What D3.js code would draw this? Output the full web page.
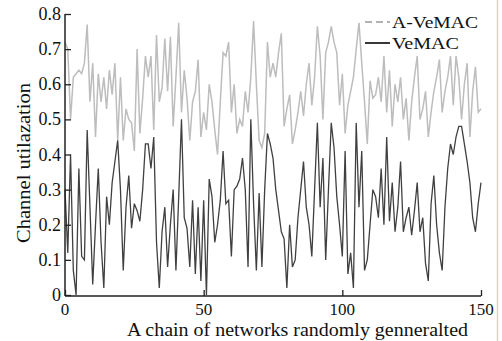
<!DOCTYPE html>
<html><head><meta charset="utf-8">
<script src="https://cdn.jsdelivr.net/npm/d3@7"></script>
<style>body{margin:0;background:#fff}svg{display:block}svg text{font-family:'Liberation Serif','Times New Roman',Times,'DejaVu Serif',serif}</style>
</head><body>
<svg id="c" width="502" height="341"></svg>
<script>
const xTicks = [0, 50, 100, 150];
const yTicks = [0, 0.1, 0.2, 0.3, 0.4, 0.5, 0.6, 0.7, 0.8];
const seriesNames = ["A-VeMAC", "VeMAC"];
const aVeMAC = [0.72,0.70,0.50,0.62,0.63,0.64,0.63,0.66,0.77,0.55,0.66,0.45,0.63,0.55,0.62,0.53,0.64,0.57,0.66,0.44,
0.62,0.44,0.53,0.50,0.49,0.41,0.70,0.46,0.56,0.68,0.62,0.68,0.47,0.74,0.55,0.59,0.73,0.58,0.735,0.48,
0.62,0.775,0.52,0.64,0.56,0.44,0.55,0.58,0.67,0.45,0.52,0.47,0.60,0.55,0.47,0.40,0.55,0.69,0.68,0.72,
0.52,0.60,0.46,0.50,0.48,0.58,0.52,0.62,0.78,0.60,0.44,0.42,0.46,0.72,0.62,0.66,0.62,0.69,0.745,0.48,
0.53,0.57,0.43,0.47,0.52,0.58,0.51,0.60,0.66,0.54,0.62,0.765,0.68,0.50,0.69,0.72,0.765,0.72,0.69,0.54,
0.63,0.46,0.54,0.58,0.62,0.70,0.775,0.66,0.55,0.43,0.61,0.56,0.57,0.62,0.55,0.68,0.52,0.64,0.48,0.60,
0.55,0.62,0.50,0.56,0.44,0.55,0.62,0.68,0.50,0.53,0.58,0.45,0.52,0.58,0.62,0.67,0.52,0.58,0.62,0.68,
0.54,0.68,0.62,0.50,0.60,0.66,0.45,0.58,0.65,0.52,0.53];
const veMAC = [0.30,0.12,0.40,0.07,0.00,0.36,0.11,0.10,0.47,0.25,0.03,0.20,0.36,0.15,0.02,0.28,0.20,0.32,0.38,0.44,
0.30,0.07,0.25,0.34,0.19,0.26,0.24,0.21,0.30,0.43,0.43,0.36,0.45,0.15,0.02,0.18,0.25,0.08,0.20,0.30,
0.07,0.28,0.50,0.22,0.19,0.08,0.27,0.06,0.25,0.04,0.27,0.00,0.33,0.28,0.15,0.20,0.27,0.41,0.26,0.27,
0.11,0.30,0.31,0.33,0.39,0.30,0.08,0.50,0.26,0.07,0.29,0.08,0.30,0.46,0.43,0.39,0.30,0.24,0.18,0.16,
0.02,0.20,0.08,0.10,0.22,0.30,0.38,0.25,0.20,0.11,0.30,0.49,0.25,0.39,0.10,0.30,0.49,0.42,0.28,0.20,
0.11,0.41,0.06,0.12,0.02,0.49,0.25,0.41,0.07,0.10,0.20,0.30,0.28,0.22,0.36,0.20,0.45,0.21,0.32,0.18,
0.25,0.38,0.18,0.22,0.25,0.17,0.24,0.32,0.18,0.22,0.09,0.04,0.26,0.34,0.20,0.12,0.07,0.25,0.36,0.43,
0.40,0.45,0.48,0.48,0.43,0.38,0.32,0.22,0.18,0.26,0.32];

const svg = d3.select("#c");
const x = d3.scaleLinear().domain([0,150]).range([65,481]);
const y = d3.scaleLinear().domain([0,0.8]).range([295,14]);
const line = d3.line().x((d,i)=>x(i)).y(d=>y(d));

// pink edge artifact
svg.append("line").attr("x1",497.5).attr("x2",497.5).attr("y1",0).attr("y2",341)
  .attr("stroke","#f6c4c4").attr("stroke-width",1.5);

svg.append("path").datum(aVeMAC).attr("d",line).attr("fill","none")
  .attr("stroke","#bdbdbd").attr("stroke-width",1.5);
svg.append("path").datum(veMAC).attr("d",line).attr("fill","none")
  .attr("stroke","#404040").attr("stroke-width",1.3);

// axes
const yAxis = d3.axisRight(y).tickValues(yTicks).tickSize(6).tickFormat("");
const gy = svg.append("g").attr("transform","translate(65,0)").call(yAxis);
gy.select(".domain").attr("d","M0,"+y(0.8)+"V"+(y(0)+1)).attr("stroke","#222").attr("stroke-width",1.5);
gy.selectAll(".tick line").attr("stroke","#222").attr("stroke-width",1.3);
svg.append("g").selectAll("text").data(yTicks).join("text")
  .attr("x",61).attr("y",d=>y(d)+6).attr("text-anchor","end").attr("fill","#111")
  .style("font-size","18px").text(d=>d===0?"0":d3.format(".1f")(d));

const xAxis = d3.axisTop(x).tickValues(xTicks).tickSize(6).tickFormat("");
const gx = svg.append("g").attr("transform","translate(0,296)").call(xAxis);
gx.select(".domain").attr("d","M"+x(0)+",0H"+x(150)).attr("stroke","#222").attr("stroke-width",1.5);
gx.selectAll(".tick line").attr("stroke","#222").attr("stroke-width",1.3);
svg.append("g").selectAll("text").data(xTicks).join("text")
  .attr("x",d=>x(d)).attr("y",315).attr("text-anchor","middle").attr("fill","#111")
  .style("font-size","17px").text(d=>d);

svg.append("text").attr("x",127).attr("y",336).attr("fill","#111")
  .attr("textLength",341).attr("lengthAdjust","spacingAndGlyphs")
  .style("font-size","18px").text("A chain of networks randomly genneralted");
svg.append("text").attr("transform","translate(30,163) rotate(-90)").attr("text-anchor","middle")
  .attr("fill","#111").attr("textLength",160).attr("lengthAdjust","spacingAndGlyphs")
  .style("font-size","19px").text("Channel utilazation");

// legend
const lg = svg.append("g");
lg.append("line").attr("x1",365).attr("x2",390).attr("y1",22).attr("y2",22)
  .attr("stroke","#9a9a9a").attr("stroke-width",1.5).attr("stroke-dasharray","7,4");
lg.append("text").attr("x",392).attr("y",28).attr("fill","#111")
  .attr("textLength",86).attr("lengthAdjust","spacingAndGlyphs")
  .style("font-size","17px").text(seriesNames[0]);
lg.append("line").attr("x1",365).attr("x2",390).attr("y1",43).attr("y2",43)
  .attr("stroke","#222").attr("stroke-width",1.8);
lg.append("text").attr("x",392).attr("y",49).attr("fill","#111")
  .attr("textLength",67).attr("lengthAdjust","spacingAndGlyphs")
  .style("font-size","17px").text(seriesNames[1]);
</script>
</body></html>
